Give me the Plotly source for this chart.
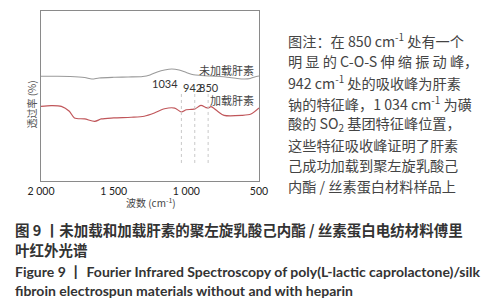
import plotly.graph_objects as go

# ---- data ----
wn_unloaded = [2000, 1900, 1800, 1700, 1650, 1600, 1500, 1400, 1300, 1250, 1200, 1150, 1100,
               1050, 1000, 950, 900, 850, 800, 700, 650, 600, 560, 530, 500]
t_unloaded = [61.6, 61.6, 61.5, 60.9, 60.0, 60.6, 61.0, 61.2, 61.5, 62.4, 64.1, 65.3, 65.9,
              65.3, 63.8, 62.5, 62.1, 61.8, 61.6, 60.9, 60.3, 60.0, 60.3, 61.2, 61.8]

wn_loaded = [2000, 1930, 1860, 1805, 1770, 1700, 1630, 1585, 1500, 1380, 1290, 1220, 1150, 1080,
             1034, 1000, 965, 940, 900, 865, 850, 830, 785, 740, 620, 555, 500]
t_loaded = [43.9, 44.3, 43.9, 41.0, 37.1, 36.5, 35.1, 36.5, 37.1, 37.5, 38.1, 40.0, 42.5, 42.9,
            40.6, 41.9, 42.1, 42.4, 44.5, 43.2, 42.9, 43.7, 41.0, 38.6, 38.6, 39.4, 42.9]

peak_wn = [1034, 942, 850]
peak_labels = ["1034", "942", "850"]
series_names = ["未加载肝素", "加载肝素"]
tick_vals = [2000, 1500, 1000, 500]
tick_text = ["2 000", "1 500", "1 000", "500"]

# ---- layout geometry (pixels) ----
W, H = 490, 300
L, R, T, B = 33, 251, 3, 173
def px(x):
    return (x - L) / (R - L)
def py(y):
    return (B - y) / (B - T)

CJK = "Noto Sans CJK SC"
LAT = "Lato"

fig = go.Figure()
fig.add_trace(go.Scatter(x=wn_unloaded, y=t_unloaded, mode="lines", name=series_names[0],
                         line=dict(color="#9a9a9a", width=1.1, shape="spline", smoothing=0.8)))
fig.add_trace(go.Scatter(x=wn_loaded, y=t_loaded, mode="lines", name=series_names[1],
                         line=dict(color="#c0565a", width=1.2, shape="spline", smoothing=0.8)))
for w in peak_wn:
    fig.add_trace(go.Scatter(x=[w, w], y=[10.6, 51.8], mode="lines", showlegend=False,
                             line=dict(color="#c8c8c8", width=1, dash="dot")))

ann = []
# peak labels
ann.append(dict(x=px(172), y=py(75.5), xref="paper", yref="paper", text=peak_labels[0],
                showarrow=False, xanchor="right", font=dict(family=LAT, size=11, color="#333")))
ann.append(dict(x=px(173), y=py(79), xref="paper", yref="paper", text=peak_labels[1],
                showarrow=False, xanchor="left", font=dict(family=LAT, size=11, color="#333")))
ann.append(dict(x=px(189), y=py(79), xref="paper", yref="paper", text=peak_labels[2],
                showarrow=False, xanchor="left", font=dict(family=LAT, size=11, color="#333")))
# series labels
ann.append(dict(x=px(248), y=py(62), xref="paper", yref="paper", text=series_names[0],
                showarrow=False, xanchor="right", font=dict(family=CJK, size=11, color="#444")))
ann.append(dict(x=px(248), y=py(92), xref="paper", yref="paper", text=series_names[1],
                showarrow=False, xanchor="right", font=dict(family=CJK, size=11, color="#444")))
# y title
ann.append(dict(x=px(13), y=py(97), xref="paper", yref="paper", text="透过率 (%)", textangle=-90,
                showarrow=False, font=dict(family=CJK, size=10, color="#555")))
# x title
ann.append(dict(x=px(143), y=py(204), xref="paper", yref="paper", text="波数 (cm<sup>-1</sup>)",
                showarrow=False, font=dict(family=CJK, size=10, color="#444")))

# note block
note_lines = [
    "图注：在 850 cm<sup>-1</sup> 处有一个",
    "明 显 的 C-O-S 伸 缩 振 动 峰，",
    "942 cm<sup>-1</sup> 处的吸收峰为肝素",
    "钠的特征峰，1 034 cm<sup>-1</sup> 为磺",
    "酸的 SO<sub>2</sub> 基团特征峰位置，",
    "这些特征吸收峰证明了肝素",
    "己成功加载到聚左旋乳酸己",
    "内酯 / 丝素蛋白材料样品上",
]
for i, line in enumerate(note_lines):
    ann.append(dict(x=px(278), y=py(32 + i * 20.9), xref="paper", yref="paper", text=line,
                    showarrow=False, xanchor="left", yanchor="middle",
                    font=dict(family=CJK, size=14.2, color="#444")))

# captions
ann.append(dict(x=px(5), y=py(222), xref="paper", yref="paper",
                text="<b>图 9 丨未加载和加载肝素的聚左旋乳酸己内酯 / 丝素蛋白电纺材料傅里</b>",
                showarrow=False, xanchor="left", yanchor="middle",
                font=dict(family=CJK, size=14.5, color="#333")))
ann.append(dict(x=px(5), y=py(242), xref="paper", yref="paper", text="<b>叶红外光谱</b>",
                showarrow=False, xanchor="left", yanchor="middle",
                font=dict(family=CJK, size=14.5, color="#333")))
ann.append(dict(x=px(5), y=py(263), xref="paper", yref="paper",
                text="<b>Figure 9 丨 Fourier Infrared Spectroscopy of poly(L-lactic caprolactone)/silk</b>",
                showarrow=False, xanchor="left", yanchor="middle",
                font=dict(family=LAT, size=14, color="#333")))
ann.append(dict(x=px(5), y=py(282), xref="paper", yref="paper",
                text="<b>fibroin electrospun materials without and with heparin</b>",
                showarrow=False, xanchor="left", yanchor="middle",
                font=dict(family=LAT, size=14, color="#333")))

fig.update_layout(
    width=W, height=H, margin=dict(l=L, r=W - R, t=T, b=H - B),
    paper_bgcolor="white", plot_bgcolor="white", showlegend=False,
    annotations=ann,
    xaxis=dict(range=[2000, 500], tickvals=tick_vals, ticktext=tick_text, showgrid=False,
               zeroline=False, showline=True, linecolor="#8a8a8a", linewidth=1, mirror=True,
               ticks="", ticklen=0, tickfont=dict(family=LAT, size=10.5, color="#222")),
    yaxis=dict(range=[0, 100], showticklabels=False, showgrid=False, zeroline=False,
               showline=True, linecolor="#8a8a8a", linewidth=1, mirror=True, ticks=""),
)
fig.write_html("out.html")
